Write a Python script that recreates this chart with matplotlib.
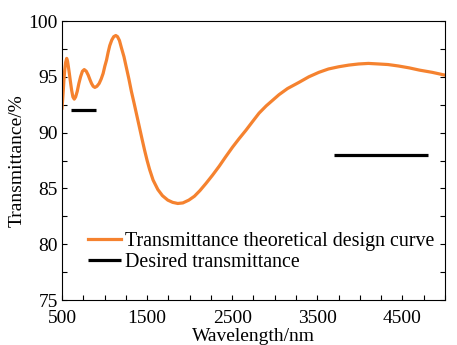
import matplotlib
matplotlib.use("Agg")
import matplotlib.pyplot as plt
from matplotlib.ticker import MultipleLocator

# theoretical transmittance curve (wavelength in nm, transmittance in %)
wavelength = [500, 508, 515, 523, 532, 543, 555, 565, 575, 586, 600, 613, 628,
              644, 660, 679, 698, 718, 740, 761, 785, 808, 828, 847, 866, 886,
              910, 936, 960, 983, 1003, 1023, 1042, 1061, 1085, 1108, 1132,
              1152, 1175, 1198, 1228, 1257, 1286, 1315, 1348, 1380, 1412, 1441,
              1471, 1500, 1529, 1570, 1626, 1680, 1743, 1800, 1860, 1920, 1990,
              2056, 2120, 2192, 2270, 2348, 2420, 2504, 2580, 2660, 2740, 2816,
              2900, 3050, 3150, 3284, 3400, 3518, 3630, 3751, 3870, 3985, 4100,
              4220, 4330, 4453, 4580, 4700, 4850, 5000]
transmittance = [92.2, 93.0, 93.8, 94.8, 95.6, 96.3, 96.65, 96.4, 95.9, 95.3,
                 94.5, 93.8, 93.2, 93.0, 93.2, 93.7, 94.4, 95.0, 95.5, 95.65,
                 95.5, 95.15, 94.75, 94.4, 94.15, 94.05, 94.15, 94.4, 94.8, 95.3,
                 95.95, 96.5, 97.2, 97.8, 98.3, 98.6, 98.7, 98.6, 98.25, 97.6,
                 96.8, 95.8, 94.8, 93.7, 92.6, 91.5, 90.4, 89.4, 88.4, 87.5, 86.7,
                 85.75, 84.9, 84.35, 83.95, 83.75, 83.65, 83.7, 83.95, 84.3, 84.8,
                 85.45, 86.2, 87.0, 87.8, 88.7, 89.45, 90.2, 91.0, 91.75, 92.4,
                 93.4, 93.95, 94.5, 95.0, 95.4, 95.7, 95.9, 96.05, 96.15, 96.2,
                 96.15, 96.1, 95.97, 95.8, 95.6, 95.4, 95.15]

# desired transmittance bands
band1_x = [600, 900]
band1_y = [92, 92]
band2_x = [3700, 4800]
band2_y = [88, 88]

plt.rcParams['font.family'] = ['Liberation Serif', 'DejaVu Serif']
plt.rcParams['font.size'] = 14

fig = plt.figure(figsize=(4.57, 3.45), dpi=100)
ax = fig.add_axes([0.1357, 0.1304, 0.8380, 0.8087])

ax.plot(wavelength, transmittance, color='#F5822F', lw=2.3,
        solid_joinstyle='round', label='Transmittance theoretical design curve')
ax.plot(band1_x, band1_y, color='black', lw=2.3, solid_capstyle='butt',
        label='Desired transmittance')
ax.plot(band2_x, band2_y, color='black', lw=2.3, solid_capstyle='butt')

ax.set_xlim(500, 5000)
ax.set_ylim(75, 100)
ax.set_xticks([500, 1500, 2500, 3500, 4500])
ax.xaxis.set_minor_locator(MultipleLocator(250))
ax.set_yticks([75, 80, 85, 90, 95, 100])
ax.yaxis.set_minor_locator(MultipleLocator(2.5))
ax.tick_params(which='both', direction='in', top=False, right=True,
               length=3.5, width=0.8)
ax.tick_params(axis='x', pad=7)
ax.tick_params(axis='y', pad=3)

ax.set_xlabel('Wavelength/nm', labelpad=1)
ax.set_ylabel('Transmittance/%', labelpad=2)

ax.legend(loc='center left', bbox_to_anchor=(0.068, 0.172), frameon=False,
          fontsize=14.4, borderpad=0, borderaxespad=0, handlelength=1.65,
          handletextpad=0.2, labelspacing=0.12)

fig.savefig('out.png', dpi=100)
